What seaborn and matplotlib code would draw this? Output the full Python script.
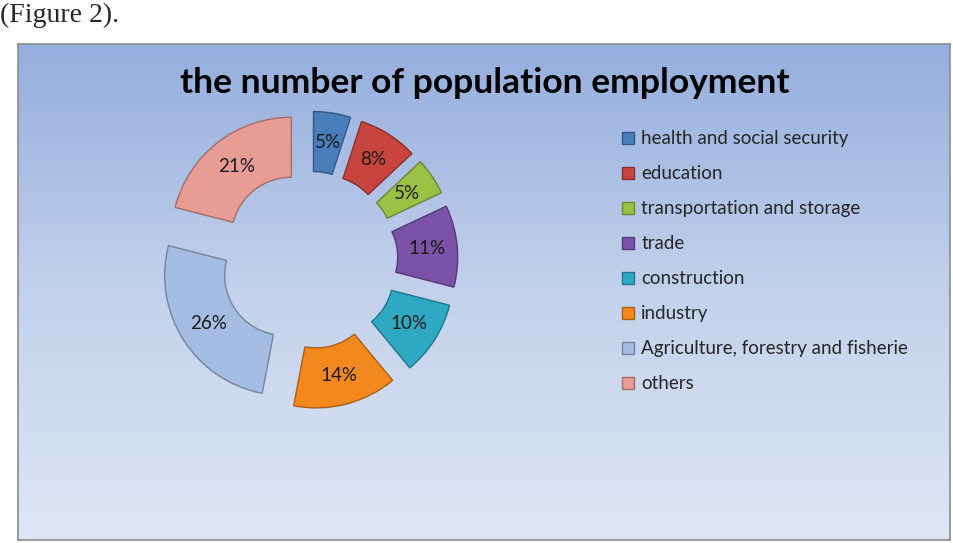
import numpy as np
import matplotlib
matplotlib.use("Agg")
import matplotlib.pyplot as plt
from matplotlib.colors import LinearSegmentedColormap, to_rgb
from matplotlib.patches import Patch
import seaborn as sns

# -----------------------------
# Data
# -----------------------------
sectors = ["health and social security", "education", "transportation and storage",
           "trade", "construction", "industry",
           "Agriculture, forestry and fisherie", "others"]
shares = [5, 8, 5, 11, 10, 14, 26, 21]
colors = ["#4A7EBB", "#C8453F", "#9CC245", "#7B52A8",
          "#2FA8C4", "#F3891E", "#A5BDE3", "#E89C96"]

sns.set_theme(style="white")
plt.rcParams["font.family"] = ["Lato", "DejaVu Sans"]

W, H = 954, 543
fig = plt.figure(figsize=(W / 100, H / 100), dpi=100)
fig.patch.set_facecolor("white")


def px(x0, y0, w, h):
    # pixel box (top-left origin) -> figure fraction
    return [x0 / W, 1 - (y0 + h) / H, w / W, h / H]


# caption above the chart box
fig.text(0 / W, 1 - 3 / H, "(Figure 2).", family=["Liberation Serif"],
         fontsize=20, va="top", ha="left")

# -----------------------------
# Chart box with gradient
# -----------------------------
bg = fig.add_axes(px(18, 44, 932, 496))
grad = LinearSegmentedColormap.from_list("bg", ["#94AEDD", "#C3D1EC", "#DFE6F4"])
bg.imshow(np.linspace(0, 1, 256).reshape(-1, 1), cmap=grad, aspect="auto",
          extent=[0, 1, 0, 1], origin="upper")
bg.set_xticks([])
bg.set_yticks([])
for s in bg.spines.values():
    s.set_color("#8C8C8C")
    s.set_linewidth(1.2)

fig.text(485 / W, 1 - 83 / H, "the number of population employment",
         fontsize=25.5, fontweight="bold", ha="center", va="center", color="black")

# -----------------------------
# Exploded doughnut
# -----------------------------
R = 120
cx, cy = 309, 260
ax = fig.add_axes(px(cx - 1.3 * R, cy - 1.3 * R, 2.6 * R, 2.6 * R))
ax.set_facecolor("none")

edges = [tuple(c * 0.7 for c in to_rgb(col)) for col in colors]
wedges, texts, autotexts = ax.pie(
    shares, colors=colors, startangle=90, counterclock=False,
    explode=[0.24] * len(shares), autopct="%d%%", pctdistance=0.75,
    wedgeprops=dict(width=0.5, linewidth=1),
    textprops=dict(fontsize=13.5, color="#1a1a1a"))
for w, ec in zip(wedges, edges):
    w.set_edgecolor(ec)
ax.set_xlim(-1.3, 1.3)
ax.set_ylim(-1.3, 1.3)
ax.set_aspect("equal")
ax.axis("off")

# -----------------------------
# Legend
# -----------------------------
handles = [Patch(facecolor=c, edgecolor=e, label=l)
           for c, e, l in zip(colors, edges, sectors)]
fig.legend(handles=handles, loc="upper left",
           bbox_to_anchor=(613 / W, 1 - 121 / H), frameon=False,
           fontsize=13.5, handlelength=0.6, handleheight=0.6,
           handletextpad=0.4, labelspacing=0.96, borderpad=0)

fig.savefig("out.png", dpi=100)
